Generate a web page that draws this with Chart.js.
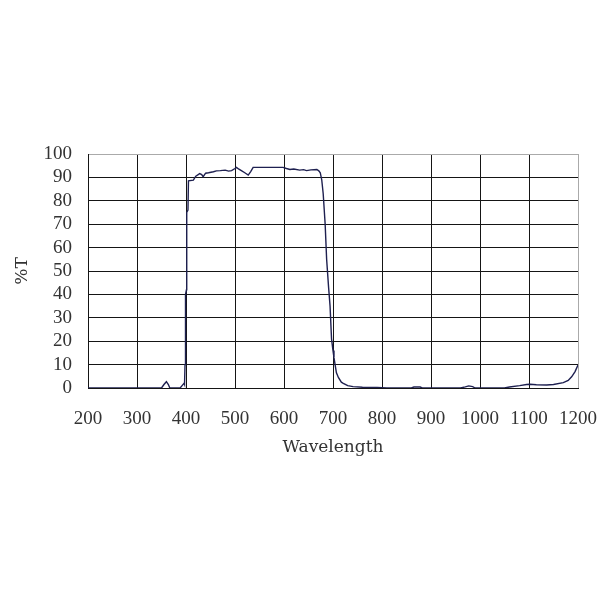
<!DOCTYPE html>
<html>
<head>
<meta charset="utf-8">
<script src="https://cdn.jsdelivr.net/npm/chart.js@4"></script>
<style>
  html, body { margin: 0; padding: 0; background: #fff; }
  #wrap { width: 600px; height: 600px; }
</style>
</head>
<body>
<div id="wrap"><canvas id="myChart" width="600" height="600"></canvas></div>
<script>
// wavelength (nm) and transmission (%T)
const wavelength = [
  200, 350, 355, 360, 364, 367, 388, 392, 396, 397, 398, 399, 401, 401.5, 404, 405,
  415, 420, 428, 432, 435, 440, 446, 456, 462, 470, 480, 487, 493, 500, 503, 508,
  513, 520, 527, 532, 537, 598, 605, 612, 620, 632, 640, 646, 655, 667, 671, 674,
  677, 680, 684, 687, 691, 694, 697, 700, 702, 705, 707, 711, 717, 721, 730, 741,
  760, 790, 800, 810, 860, 865, 878, 882, 960, 970, 977, 985, 990, 1050, 1060, 1081,
  1095, 1102, 1115, 1136, 1150, 1170, 1180, 1187, 1194, 1200
];
const transmission = [
  0, 0, 1.5, 2.7, 1.5, 0, 0, 1, 2, 1.5, 10, 40, 42, 75, 76, 88.5,
  88.8, 90.5, 91.6, 91.2, 90.3, 91.8, 92, 92.4, 92.8, 92.9, 93.1, 92.7, 92.9, 93.8, 94.3, 93.5,
  92.9, 92, 91, 92.5, 94.3, 94.3, 93.8, 93.4, 93.6, 93.1, 93.3, 92.9, 93.2, 93.4, 92.8, 92,
  89, 83, 70, 55, 43, 35, 21, 16, 13, 9, 6.5, 4.5, 2.5, 2, 1, 0.6,
  0.3, 0.2, 0.1, 0, 0, 0.4, 0.4, 0, 0, 0.5, 0.9, 0.6, 0, 0, 0.4, 1,
  1.5, 1.6, 1.4, 1.3, 1.5, 2.3, 3.2, 4.8, 7, 9.8
];
const xTicks = [200, 300, 400, 500, 600, 700, 800, 900, 1000, 1100, 1200];
const yTicks = [0, 10, 20, 30, 40, 50, 60, 70, 80, 90, 100];

const points = wavelength.map((w, i) => ({ x: w, y: transmission[i] }));

const ctx = document.getElementById("myChart");
new Chart(ctx, {
  type: "scatter",
  data: {
    datasets: [
      {
        data: points,
        showLine: true,
        borderColor: "#1e2050",
        borderWidth: 1.4,
        pointRadius: 0,
        tension: 0,
      },
    ],
  },
  options: {
    responsive: false,
    animation: false,
    devicePixelRatio: 1,
    layout: {
      padding: { top: 154, right: 22, bottom: 142, left: 0 },
    },
    plugins: {
      legend: { display: false },
      tooltip: { enabled: false },
    },
    scales: {
      x: {
        type: "linear",
        min: xTicks[0],
        max: xTicks[xTicks.length - 1],
        afterBuildTicks: (scale) => {
          scale.ticks = xTicks.map((v) => ({ value: v }));
        },
        afterFit: (scale) => {
          scale.height = 70;
          scale.paddingLeft = 0;
          scale.paddingRight = 0;
        },
        grid: {
          drawTicks: false,
          lineWidth: 1,
          color: (c) => (c.tick && c.tick.value === 1200 ? "#aaaaaa" : "#151515"),
        },
        border: { display: true, color: "#151515", width: 1 },
        ticks: {
          autoSkip: false,
          maxRotation: 0,
          padding: 20,
          color: "#333",
          font: { family: "Liberation Serif", size: 19 },
          callback: (v) => String(v),
        },
        title: {
          display: true,
          text: "Wavelength",
          color: "#333",
          padding: { top: 0, bottom: 0 },
          font: { family: "DejaVu Serif", size: 17 },
        },
      },
      y: {
        min: yTicks[0],
        max: yTicks[yTicks.length - 1],
        afterBuildTicks: (scale) => {
          scale.ticks = yTicks.map((v) => ({ value: v }));
        },
        afterFit: (scale) => {
          scale.width = 88;
          scale.paddingTop = 0;
          scale.paddingBottom = 0;
        },
        grid: {
          drawTicks: false,
          lineWidth: 1,
          color: (c) => (c.tick && c.tick.value === 100 ? "#aaaaaa" : "#151515"),
        },
        border: { display: true, color: "#151515", width: 1 },
        ticks: {
          autoSkip: false,
          padding: 16,
          color: "#333",
          font: { family: "Liberation Serif", size: 19 },
          callback: (v) => String(v),
        },
        title: {
          display: true,
          text: "%T",
          color: "#333",
          padding: { top: 12, bottom: 0 },
          font: { family: "DejaVu Serif", size: 17 },
        },
      },
    },
  },
});
</script>
</body>
</html>
